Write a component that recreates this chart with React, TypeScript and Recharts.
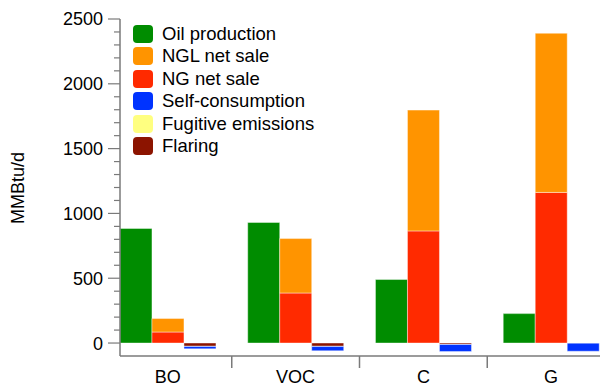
import React from "react";
import { BarChart, Bar, XAxis, YAxis, Legend } from "recharts";

const categories = ["BO", "VOC", "C", "G"];
const oilProduction = [884, 930, 490, 227];
const ngNetSale = [85, 386, 865, 1162];
const nglNetSale = [104, 420, 932, 1228];
const flaring = [-25, -25, -10, 0];
const fugitiveEmissions = [-2, -2, -1, -1];
const selfConsumption = [-18, -33, -54, -62];
const yTicks = [0, 100, 200, 300, 400, 500, 600, 700, 800, 900, 1000, 1100, 1200, 1300, 1400, 1500, 1600, 1700, 1800, 1900, 2000, 2100, 2200, 2300, 2400, 2500];

const COLORS = {
  oil: "#008c00",
  ngl: "#ff9400",
  ng: "#ff2a00",
  self: "#0033ff",
  fugitive: "#ffff80",
  flaring: "#8c1400",
};

const legendItems = [
  { name: "Oil production", color: COLORS.oil },
  { name: "NGL net sale", color: COLORS.ngl },
  { name: "NG net sale", color: COLORS.ng },
  { name: "Self-consumption", color: COLORS.self },
  { name: "Fugitive emissions", color: COLORS.fugitive },
  { name: "Flaring", color: COLORS.flaring },
];

const data = categories.map((name, i) => ({
  name,
  oil: oilProduction[i],
  ng: ngNetSale[i],
  ngl: nglNetSale[i],
  flaring: flaring[i],
  fugitive: fugitiveEmissions[i],
  self: selfConsumption[i],
}));

const AXIS = "#7a7a7a";
const CHART_W = 640;
const PLOT_RIGHT = 615;
const BAND_START = 104;
const HALF_BAND = (PLOT_RIGHT - BAND_START) / categories.length / 2;

const YTick = (props: any) => {
  const { x, y, payload } = props;
  const major = payload.value % 500 === 0;
  return (
    <g>
      <line x1={x - (major ? 12 : 6)} x2={x} y1={y} y2={y} stroke={AXIS} strokeWidth={1.2} />
      {major && (
        <text x={x - 17} y={y} dy="0.36em" textAnchor="end" fontSize={18} fill="#000">
          {payload.value}
        </text>
      )}
    </g>
  );
};

const XTick = (props: any) => {
  const { x, y, payload, index } = props;
  return (
    <g>
      <text x={x} y={y + 26.5} textAnchor="middle" fontSize={18} fill="#000">
        {payload.value}
      </text>
      {index < categories.length - 1 && (
        <line x1={x + HALF_BAND} x2={x + HALF_BAND} y1={y} y2={y + 12} stroke={AXIS} strokeWidth={1.5} />
      )}
    </g>
  );
};

const LegendContent = () => (
  <div style={{ fontSize: 18.5, lineHeight: "22.5px", color: "#000" }}>
    {legendItems.map((it) => (
      <div key={it.name} style={{ display: "flex", alignItems: "center", height: 22.5 }}>
        <span
          style={{
            display: "inline-block",
            width: 19.5,
            height: 18,
            borderRadius: 4,
            background: it.color,
            marginRight: 9.5,
          }}
        />
        <span>{it.name}</span>
      </div>
    ))}
  </div>
);

const barStroke = { stroke: "#ffffff", strokeWidth: 0.6, strokeOpacity: 0.7 };

export default function App() {
  return (
    <div
      style={{
        position: "absolute",
        left: 0,
        top: 0,
        width: 600,
        height: 387,
        overflow: "hidden",
        background: "#fff",
        fontFamily: "'Liberation Sans', Arial, Helvetica, sans-serif",
      }}
    >
      <BarChart
        width={CHART_W}
        height={387}
        data={data}
        margin={{ top: 19, right: CHART_W - PLOT_RIGHT, bottom: 0, left: 0 }}
        stackOffset="sign"
        barCategoryGap="12.5%"
        barGap={0}
      >
        <XAxis
          dataKey="name"
          height={31}
          padding={{ left: BAND_START - 120, right: 0 }}
          axisLine={{ stroke: AXIS, strokeWidth: 1.5 }}
          tickLine={false}
          tickSize={0}
          tickMargin={0}
          tick={<XTick />}
          interval={0}
        />
        <YAxis
          width={120}
          domain={[-100, 2500]}
          ticks={yTicks}
          interval={0}
          allowDataOverflow
          axisLine={{ stroke: AXIS, strokeWidth: 1.5 }}
          tickLine={false}
          tickSize={0}
          tickMargin={0}
          tick={<YTick />}
          label={() => (
            <text x={18} y={188} transform="rotate(-90 18 188)" textAnchor="middle" dominantBaseline="central" fontSize={18} fill="#000">
              MMBtu/d
            </text>
          )}
        />
        <Legend
          layout="vertical"
          align="center"
          verticalAlign="middle"
          content={<LegendContent />}
          wrapperStyle={{ left: 133, top: 22.5, width: 230 }}
        />
        <Bar dataKey="oil" stackId="a" fill={COLORS.oil} {...barStroke} isAnimationActive={false} />
        <Bar dataKey="ng" stackId="b" fill={COLORS.ng} {...barStroke} isAnimationActive={false} />
        <Bar dataKey="ngl" stackId="b" fill={COLORS.ngl} {...barStroke} isAnimationActive={false} />
        <Bar dataKey="flaring" stackId="c" fill={COLORS.flaring} {...barStroke} isAnimationActive={false} />
        <Bar dataKey="fugitive" stackId="c" fill={COLORS.fugitive} {...barStroke} isAnimationActive={false} />
        <Bar dataKey="self" stackId="c" fill={COLORS.self} {...barStroke} isAnimationActive={false} />
      </BarChart>
    </div>
  );
}
